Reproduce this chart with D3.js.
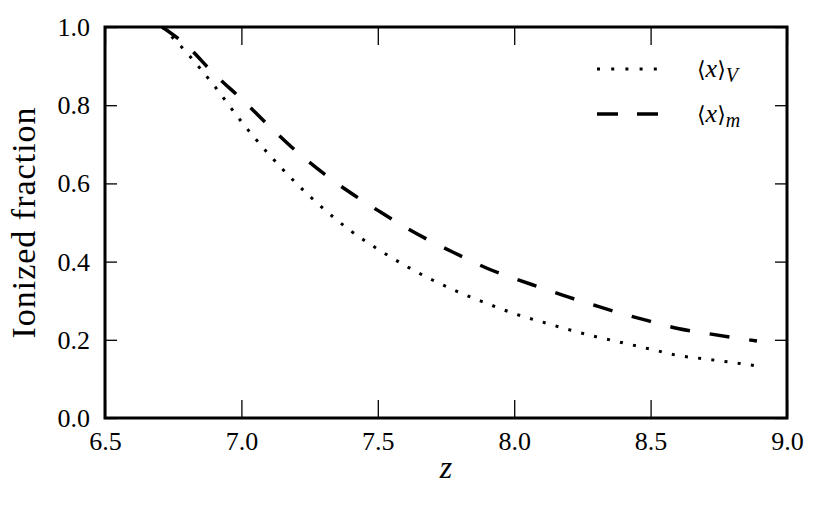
<!DOCTYPE html>
<html>
<head>
<meta charset="utf-8">
<script src="https://cdn.jsdelivr.net/npm/d3@7/dist/d3.min.js"></script>
<style>
  html, body { margin: 0; padding: 0; background: #fff; }
  svg { display: block; }
  text { font-family: "Liberation Serif", "DejaVu Serif", serif; }
</style>
</head>
<body>
<svg id="chart" width="829" height="524"></svg>
<script>
// ---- data ----
const zValues = [6.71, 6.8, 6.9, 7.0, 7.1, 7.2, 7.3, 7.4, 7.5, 7.6, 7.7, 7.8, 7.9, 8.0, 8.1, 8.2, 8.3, 8.4, 8.5, 8.6, 8.7, 8.8, 8.89];
const xVolume = [1.0, 0.934, 0.850, 0.758, 0.675, 0.601, 0.536, 0.479, 0.432, 0.390, 0.353, 0.321, 0.293, 0.267, 0.246, 0.226, 0.208, 0.192, 0.176, 0.160, 0.151, 0.142, 0.133];
const xMass   = [1.0, 0.952, 0.880, 0.816, 0.748, 0.683, 0.626, 0.576, 0.531, 0.488, 0.450, 0.416, 0.383, 0.357, 0.333, 0.309, 0.287, 0.266, 0.247, 0.229, 0.217, 0.206, 0.197];
const xTicks = [6.5, 7.0, 7.5, 8.0, 8.5, 9.0];
const yTicks = [0.0, 0.2, 0.4, 0.6, 0.8, 1.0];
const seriesNames = ["V", "m"];

// ---- layout ----
const svg = d3.select("#chart");
const L = 105, R = 787, T = 27, B = 418;
const serif = "Liberation Serif";

const x = d3.scaleLinear().domain([6.5, 9.0]).range([L, R]);
const y = d3.scaleLinear().domain([0, 1]).range([B, T]);

svg.append("defs").append("clipPath").attr("id", "clip")
  .append("rect").attr("x", L).attr("y", T).attr("width", R - L).attr("height", B - T);
const plot = svg.append("g");

// lines
const series = [
  { name: "V", values: xVolume, dash: "3,10.3", width: 3 },
  { name: "m", values: xMass, dash: "20,20", width: 3.5 }
];
const line = d3.line().curve(d3.curveMonotoneX);
series.forEach(s => {
  const pts = zValues.map((z, i) => [x(z), y(s.values[i])]);
  plot.append("path")
    .attr("d", line(pts))
    .attr("fill", "none")
    .attr("stroke", "#000")
    .attr("stroke-width", s.width)
    .attr("stroke-dasharray", s.dash)
    .attr("stroke-linecap", "butt")
    .attr("clip-path", "url(#clip)");
});

// axes (ticks inward on all four sides)
const fmt = d3.format(".1f");
const axB = d3.axisBottom(x).tickValues(xTicks).tickFormat(fmt).tickSizeInner(-18).tickSizeOuter(0).tickPadding(32);
const axT = d3.axisTop(x).tickValues(xTicks).tickFormat("").tickSizeInner(-18).tickSizeOuter(0);
const axLf = d3.axisLeft(y).tickValues(yTicks).tickFormat(fmt).tickSizeInner(-12).tickSizeOuter(0).tickPadding(15);
const axRt = d3.axisRight(y).tickValues(yTicks).tickFormat("").tickSizeInner(-12).tickSizeOuter(0);

function styleAxis(g) {
  g.attr("font-family", serif).attr("font-size", 26);
  g.select(".domain").remove();
  g.selectAll(".tick line").attr("stroke", "#000").attr("stroke-width", 1.3);
  g.selectAll(".tick text").attr("fill", "#000")
    .attr("font-family", serif).style("font-family", serif).style("font-size", "26px");
}
svg.append("g").attr("transform", `translate(0,${B})`).call(axB).call(styleAxis)
  .selectAll(".tick text").attr("dy", "0").attr("y", 32);
svg.append("g").attr("transform", `translate(0,${T})`).call(axT).call(styleAxis);
svg.append("g").attr("transform", `translate(${L},0)`).call(axLf).call(styleAxis)
  .selectAll(".tick text").attr("dy", "0.33em");
svg.append("g").attr("transform", `translate(${R},0)`).call(axRt).call(styleAxis);

// frame
svg.append("rect").attr("x", L).attr("y", T).attr("width", R - L).attr("height", B - T)
  .attr("fill", "none").attr("stroke", "#000").attr("stroke-width", 3);

// axis labels
svg.append("text")
  .attr("transform", `translate(35,${(T + B) / 2}) rotate(-90)`)
  .attr("text-anchor", "middle")
  .attr("font-family", serif).style("font-family", serif)
  .style("font-size", "34px").style("letter-spacing", "1px")
  .text("Ionized fraction");
svg.append("text")
  .attr("x", (L + R) / 2).attr("y", 478)
  .attr("text-anchor", "middle")
  .attr("font-family", serif).style("font-family", serif)
  .style("font-size", "32px").style("font-style", "italic")
  .text("z");

// legend
const legend = svg.append("g");
series.forEach((s, i) => {
  const cy = 69 + i * 45;
  legend.append("line")
    .attr("x1", 597).attr("x2", 668).attr("y1", cy).attr("y2", cy)
    .attr("stroke", "#000").attr("stroke-width", s.width)
    .attr("stroke-dasharray", i === 0 ? "3,11.2" : "21,19");
  const t = legend.append("text")
    .attr("x", 697).attr("y", cy + 8)
    .attr("font-family", serif).style("font-family", serif).style("font-size", "26px");
  t.append("tspan").style("font-family", "DejaVu Serif").style("font-size", "22px").text("\u27E8");
  t.append("tspan").style("font-style", "italic").text("x");
  t.append("tspan").style("font-family", "DejaVu Serif").style("font-size", "22px").text("\u27E9");
  t.append("tspan").attr("dy", 5).style("font-style", "italic").style("font-size", "20px").text(seriesNames[i]);
});
</script>
</body>
</html>
